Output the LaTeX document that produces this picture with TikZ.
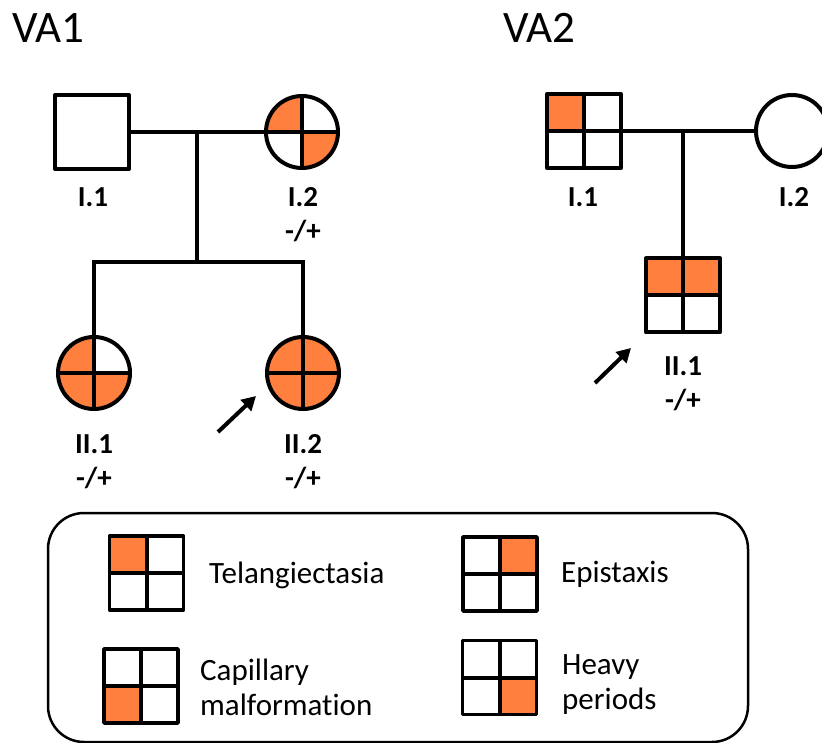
\documentclass[tikz,border=0pt]{standalone}
\usepackage{fontspec}
\setmainfont{Carlito}[Ligatures=NoCommon]
\usetikzlibrary{arrows.meta,calc}
\definecolor{ora}{RGB}{255,127,63}
\begin{document}
\begin{tikzpicture}[x=1pt,y=-1pt,
  % quadrant colouring of an individual: top-left, top-right, bottom-left, bottom-right
  quad/.style n args={4}{path picture={
    \fill[#1] (path picture bounding box.north west) rectangle (path picture bounding box.center);
    \fill[#2] (path picture bounding box.north east) rectangle (path picture bounding box.center);
    \fill[#3] (path picture bounding box.south west) rectangle (path picture bounding box.center);
    \fill[#4] (path picture bounding box.south east) rectangle (path picture bounding box.center);
    \draw[line width=4pt] (path picture bounding box.north) -- (path picture bounding box.south)
      (path picture bounding box.west) -- (path picture bounding box.east);
  }},
  sym/.style={draw, line width=4pt, inner sep=0pt, fill=white, line join=round},
  male/.style={sym, rectangle, minimum size=74pt},
  female/.style={sym, circle, minimum size=72pt},
  legsym/.style={sym, rectangle, minimum size=74pt, line width=3.6pt},
  link/.style={line width=4pt},
  proband/.style={line width=4pt, -{Triangle[length=14pt,width=15pt]}},
  lab/.style={font=\bfseries\fontsize{29}{33}\selectfont, anchor=base, inner sep=0pt},
  famtitle/.style={font=\fontsize{45}{50}\selectfont, anchor=base west, inner sep=0pt},
  legtext/.style={font=\fontsize{31}{35}\selectfont, align=left, inner sep=0pt},
]
\useasboundingbox (0,0) rectangle (822,743);

% ---------------- family VA1 ----------------
\node[famtitle] (t1) at (12,43) {VA1};
\node[male] (a11) at (92,132) {};
\node[female, quad={ora}{white}{white}{ora}] (a12) at (302,132) {};
\node[female, quad={ora}{white}{ora}{ora}] (a21) at (94,373) {};
\node[female, quad={ora}{ora}{ora}{ora}] (a22) at (303,373) {};
\coordinate (am) at (197,132);
\coordinate (as) at (197,262);
\draw[link] (a11.east) -- (a12.west);
\draw[link] (am) -- (as);
\draw[link] (a21.north) |- (as) -| (a22.north);

\node[lab] (la11) at (93,207) {I.1};
\node[lab] (la12) at (303,207) {I.2};
\node[lab] (ga12) at (303,241) {-/+};
\node[lab] (la21) at (94,453) {II.1};
\node[lab] (ga21) at (94,487) {-/+};
\node[lab] (la22) at (303,453) {II.2};
\node[lab] (ga22) at (303,487) {-/+};

\coordinate (ap1) at (218,432);
\coordinate (ap2) at (256,396);
\draw[proband] (ap1) -- (ap2);

% ---------------- family VA2 ----------------
\node[famtitle] (t2) at (503,43) {VA2};
\node[male, quad={ora}{white}{white}{white}] (b11) at (584,131) {};
\node[female] (b12) at (792,131) {};
\node[male, quad={ora}{ora}{white}{white}] (b21) at (683,295.5) {};
\coordinate (bm) at (683,131);
\draw[link] (b11.east) -- (b12.west);
\draw[link] (bm) -- (b21.north);

\node[lab] (lb11) at (583,207) {I.1};
\node[lab] (lb12) at (794,207) {I.2};
\node[lab] (lb21) at (683,375) {II.1};
\node[lab] (gb21) at (683,409) {-/+};

\coordinate (bp1) at (595,383);
\coordinate (bp2) at (631,348);
\draw[proband] (bp1) -- (bp2);

% ---------------- legend ----------------
\node[draw, line width=2.5pt, rounded corners=36pt, minimum width=700pt,
      minimum height=229pt, inner sep=0pt] (legend) at (398,627.5) {};
\node[legsym, quad={ora}{white}{white}{white}] (k1) at (146.5,573) {};
\node[legsym, quad={white}{ora}{white}{white}] (k2) at (500,574) {};
\node[legsym, quad={white}{white}{ora}{white}] (k3) at (141,686) {};
\node[legsym, quad={white}{white}{white}{ora}] (k4) at (499.5,677.5) {};
\node[legtext, anchor=base west] (kt1) at (209,583) {Telangiectasia};
\node[legtext, anchor=base west] (kt2) at (561,582) {Epistaxis};
\node[legtext, anchor=west] (kt3) at (200,687) {Capillary\\malformation};
\node[legtext, anchor=west] (kt4) at (562,685) {Heavy\\periods};
\end{tikzpicture}
\end{document}
